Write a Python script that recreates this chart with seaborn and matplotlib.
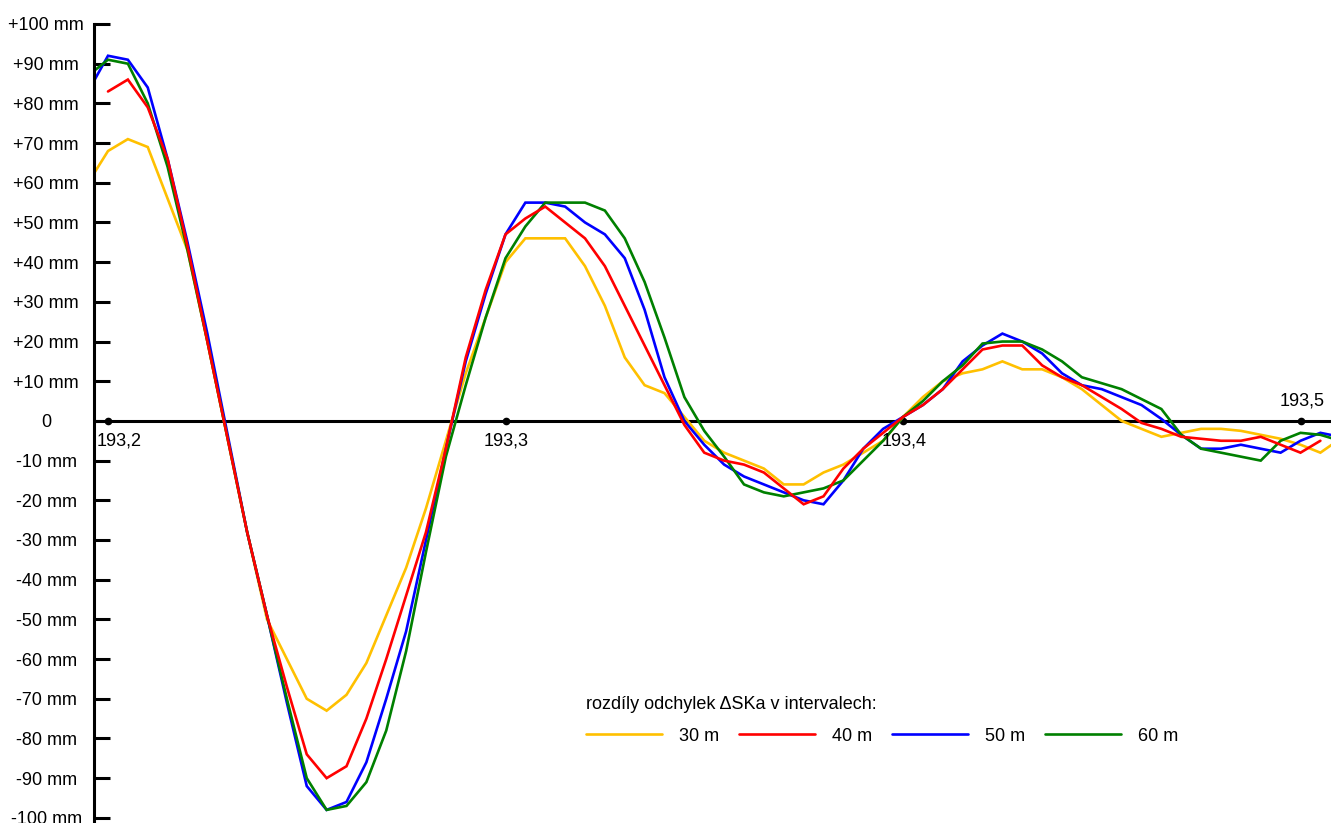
import numpy as np
import pandas as pd
import matplotlib
matplotlib.use("Agg")
import matplotlib.pyplot as plt
import seaborn as sns
from matplotlib.lines import Line2D

# chainage (km) of the sampled points, 5 m step
station = [round(193.195 + 0.005 * i, 3) for i in range(64)]

# differences of deviations dSKa (mm) for the four chord intervals
dev_30 = [60, 68, 71, 69, 56, 43, 20, -4, -28, -50, -60, -70, -73, -69, -61, -49,
          -37, -22, -5, 12, 26, 40, 46, 46, 46, 39, 29, 16, 9, 7, 1, -5,
          -8, -10, -12, -16, -16, -13, -11, -8, -5, 1, 6, 10, 12, 13, 15, 13,
          13, 11, 8, 4, 0, -2, -4, -3, -2, -2, -2.5, -3.5, -4.5, -6, -8, -4.5]
dev_40 = [np.nan, 83, 86, 79, 66, 44, 20, -4, -28, -49, -67, -84, -90, -87, -75, -60,
          -44, -28, -7, 16, 33, 47, 51, 54, 50, 46, 39, 29, 19, 9, -1, -8,
          -10, -11, -13, -17, -21, -19, -12, -7, -3, 1, 4, 8, 13, 18, 19, 19,
          14, 11, 9, 6, 3, -0.5, -2, -4, -4.5, -5, -5, -4, -6, -8, -5, np.nan]
dev_50 = [83, 92, 91, 84, 66, 45, 22, -3, -28, -49, -71, -92, -98, -96, -86, -70,
          -53, -30, -7, 15, 32, 47, 55, 55, 54, 50, 47, 41, 28, 11, 0, -6,
          -11, -14, -16, -18, -20, -21, -15, -7, -2, 1, 4, 8, 15, 19, 22, 20,
          17, 12, 9, 8, 6, 4, 0.5, -3.5, -7, -7, -6, -7, -8, -5, -3, -4]
dev_60 = [87, 91, 90, 80, 64, 43, 20, -4, -28, -49, -70, -90, -98, -97, -91, -78,
          -58, -33, -9, 9, 26, 41, 49, 55, 55, 55, 53, 46, 35, 21, 6, -2.5,
          -9, -16, -18, -19, -18, -17, -15, -10, -5, 1, 5, 10, 14, 19.5, 20, 20,
          18, 15, 11, 9.5, 8, 5.5, 3, -3.5, -7, -8, -9, -10, -5, -3, -3.5, -5]

series_labels = ["30 m", "40 m", "50 m", "60 m"]
series_colors = ["#FFC000", "#FF0000", "#0000FF", "#008000"]

y_ticks = list(range(-100, 101, 10))
y_tick_labels = [("+%d mm" % v) if v > 0 else ("0" if v == 0 else "-%d mm" % -v) for v in y_ticks]
x_ticks = [193.2, 193.3, 193.4, 193.5]
x_tick_labels = ["193,2", "193,3", "193,4", "193,5"]
legend_title = "rozdíly odchylek ΔSKa v intervalech:"

sns.set_theme(style="white")
plt.rcParams["font.family"] = ["Liberation Sans", "DejaVu Sans"]
plt.rcParams["text.color"] = "black"
plt.rcParams["axes.labelcolor"] = "black"

W, H = 1331, 823
fig = plt.figure(figsize=(W / 100, H / 100), dpi=100)
ax = fig.add_axes([94 / W, 0, 1 - 94 / W, 1 - 24 / H])

df = pd.DataFrame({
    "station": station * 4,
    "dev": dev_30 + dev_40 + dev_50 + dev_60,
    "interval": [lbl for lbl in series_labels for _ in station],
}).dropna()

sns.lineplot(data=df, x="station", y="dev", hue="interval", hue_order=series_labels,
             palette=series_colors, linewidth=1.9, legend=False, ax=ax,
             estimator=None, errorbar=None)
for line, z in zip(ax.lines, [2.1, 2.4, 2.2, 2.3]):
    line.set_zorder(z)
    line.set_solid_joinstyle("miter")

# zero line with station dots
ax.axhline(0, color="black", lw=2.2, zorder=1.5)
ax.plot(x_ticks, [0] * len(x_ticks), "o", color="black", ms=4.5, zorder=1.6)

ax.set_xlim(193.2 - 14 / 3975, 193.2 + 1223 / 3975)
ax.set_ylim(-101.3, 100)
ax.set_xlabel("")
ax.set_ylabel("")
ax.set_xticks([])
ax.set_yticks(y_ticks)
ax.set_yticklabels(y_tick_labels)
ax.tick_params(axis="y", direction="in", length=11.5, width=2.2, color="black",
               labelsize=13, labelcolor="black", pad=34.5, left=True)
for lbl in ax.get_yticklabels():
    lbl.set_horizontalalignment("center")

for side in ["top", "right", "bottom"]:
    ax.spines[side].set_visible(False)
ax.spines["left"].set_visible(True)
ax.spines["left"].set_color("black")
ax.spines["left"].set_linewidth(2.2)

label_offsets = [(11, -20), (1, -20), (1, -20), (2, 20)]
for xt, lab, (dx, dy) in zip(x_ticks, x_tick_labels, label_offsets):
    ax.annotate(lab, xy=(xt, 0), xytext=(dx, dy), textcoords="offset pixels",
                ha="center", va="center", fontsize=13, color="black")

handles = [Line2D([], [], color=c, lw=1.9) for c in series_colors]
leg = ax.legend(handles, series_labels, title=legend_title, ncol=4, frameon=False,
                loc="upper left", bbox_to_anchor=(586 / W, 1 - 696 / H),
                bbox_transform=fig.transFigure, fontsize=13, title_fontsize=13,
                handlelength=4.2, handletextpad=0.97, columnspacing=1.08,
                borderpad=0, borderaxespad=0, labelspacing=0.82, alignment="left")
for t in leg.get_texts():
    t.set_color("black")
leg.get_title().set_color("black")

fig.savefig("out.png", dpi=100)
